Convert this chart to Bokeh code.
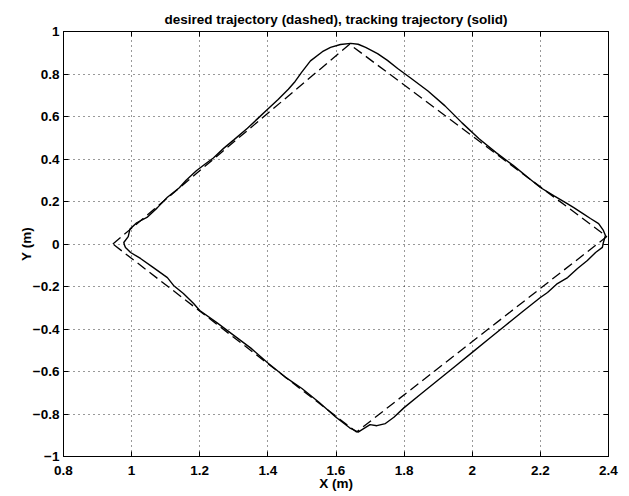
from bokeh.plotting import figure
from bokeh.models import Range1d, LinearAxis, FixedTicker
from bokeh.embed import file_html
from bokeh.resources import INLINE

title_text = "desired trajectory (dashed), tracking trajectory (solid)"
x_label = "X (m)"
y_label = "Y (m)"
x_ticks = [0.8, 1.0, 1.2, 1.4, 1.6, 1.8, 2.0, 2.2, 2.4]
y_ticks = [-1.0, -0.8, -0.6, -0.4, -0.2, 0.0, 0.2, 0.4, 0.6, 0.8, 1.0]

# desired (dashed) trajectory corners
desired_x = [0.945, 1.64, 2.395, 1.66, 0.945]
desired_y = [0.0, 0.94, 0.035, -0.885, 0.0]

# tracking (solid) trajectory
track_x = [0.980, 0.977, 0.990, 0.995, 1.015, 1.045, 1.075, 1.105, 1.140, 1.160,
           1.190, 1.215, 1.240, 1.270, 1.300, 1.340, 1.370, 1.400, 1.430, 1.460,
           1.480, 1.500, 1.525, 1.560, 1.584, 1.613, 1.643, 1.665, 1.687, 1.722,
           1.751, 1.781, 1.820, 1.870, 1.920, 1.970, 2.020, 2.070, 2.120, 2.170,
           2.200, 2.239, 2.274, 2.297, 2.324, 2.347, 2.371, 2.385, 2.391, 2.385,
           2.382, 2.362, 2.338, 2.309, 2.280, 2.250, 2.221, 2.200, 2.150, 2.100,
           2.050, 2.000, 1.950, 1.900, 1.850, 1.800, 1.770, 1.745, 1.720, 1.700,
           1.680, 1.665, 1.640, 1.600, 1.550, 1.500, 1.450, 1.400, 1.350, 1.300,
           1.250, 1.200, 1.182, 1.152, 1.123, 1.105, 1.064, 1.026, 0.997, 0.982,
           0.980]
track_y = [-0.010, 0.007, 0.035, 0.070, 0.100, 0.125, 0.170, 0.220, 0.265, 0.300,
           0.345, 0.375, 0.405, 0.450, 0.490, 0.545, 0.590, 0.635, 0.680, 0.728,
           0.765, 0.810, 0.862, 0.905, 0.925, 0.939, 0.944, 0.940, 0.925, 0.896,
           0.864, 0.826, 0.780, 0.720, 0.650, 0.570, 0.495, 0.430, 0.370, 0.305,
           0.266, 0.228, 0.195, 0.172, 0.144, 0.120, 0.096, 0.064, 0.040, 0.007,
           -0.016, -0.040, -0.078, -0.115, -0.158, -0.186, -0.228, -0.252, -0.315, -0.380,
           -0.445, -0.510, -0.575, -0.640, -0.705, -0.770, -0.815, -0.845, -0.855, -0.850,
           -0.870, -0.885, -0.865, -0.815, -0.745, -0.680, -0.625, -0.560, -0.490, -0.430,
           -0.370, -0.313, -0.280, -0.233, -0.195, -0.158, -0.111, -0.068, -0.040, -0.016,
           -0.010]

FONT = "Liberation Sans"

p = figure(frame_width=545, frame_height=425, output_backend="svg", toolbar_location=None,
           x_range=Range1d(0.8, 2.4), y_range=Range1d(-1, 1),
           min_border_left=63, min_border_right=21, min_border_top=31, min_border_bottom=40,
           title=title_text)
p.title.align = "center"
p.title.text_font = FONT
p.title.text_font_size = "13.5px"
p.title.text_font_style = "bold"
p.title.text_color = "black"

p.background_fill_color = "white"
p.border_fill_color = "white"
p.outline_line_color = "black"
p.outline_line_width = 1

for ax, lab, ticks in ((p.xaxis[0], x_label, x_ticks), (p.yaxis[0], y_label, y_ticks)):
    ax.ticker = FixedTicker(ticks=ticks)
    ax.axis_label = lab
    ax.axis_label_text_font = FONT
    ax.axis_label_text_font_size = "13.5px"
    ax.axis_label_text_font_style = "bold"
    ax.axis_label_text_color = "black"
    ax.major_label_text_font = FONT
    ax.major_label_text_font_size = "13.5px"
    ax.major_label_text_font_style = "bold"
    ax.major_label_text_color = "black"
    ax.major_tick_in = 5
    ax.major_tick_out = 0
    ax.minor_tick_line_color = None
    ax.axis_line_color = "black"
    ax.major_tick_line_color = "black"

p.xaxis[0].major_label_standoff = 9
p.xaxis[0].axis_label_standoff = -2
p.yaxis[0].major_label_standoff = 4
p.yaxis[0].axis_label_standoff = -4

for loc, ticks in (("right", y_ticks), ("above", x_ticks)):
    extra = LinearAxis(ticker=FixedTicker(ticks=ticks), major_label_text_color=None,
                       major_tick_in=5, major_tick_out=0, minor_tick_line_color=None,
                       axis_line_color="black", major_tick_line_color="black",
                       major_label_standoff=0)
    p.add_layout(extra, loc)

for g in (p.xgrid[0], p.ygrid[0]):
    g.grid_line_color = "black"
    g.grid_line_dash = "1 4"
    g.grid_line_width = 1
    g.grid_line_alpha = 0.8

p.line(desired_x, desired_y, line_color="black", line_width=1.3, line_dash="10 5")
p.line(track_x, track_y, line_color="black", line_width=1.4)

open("out.html", "w").write(file_html(p, INLINE))
